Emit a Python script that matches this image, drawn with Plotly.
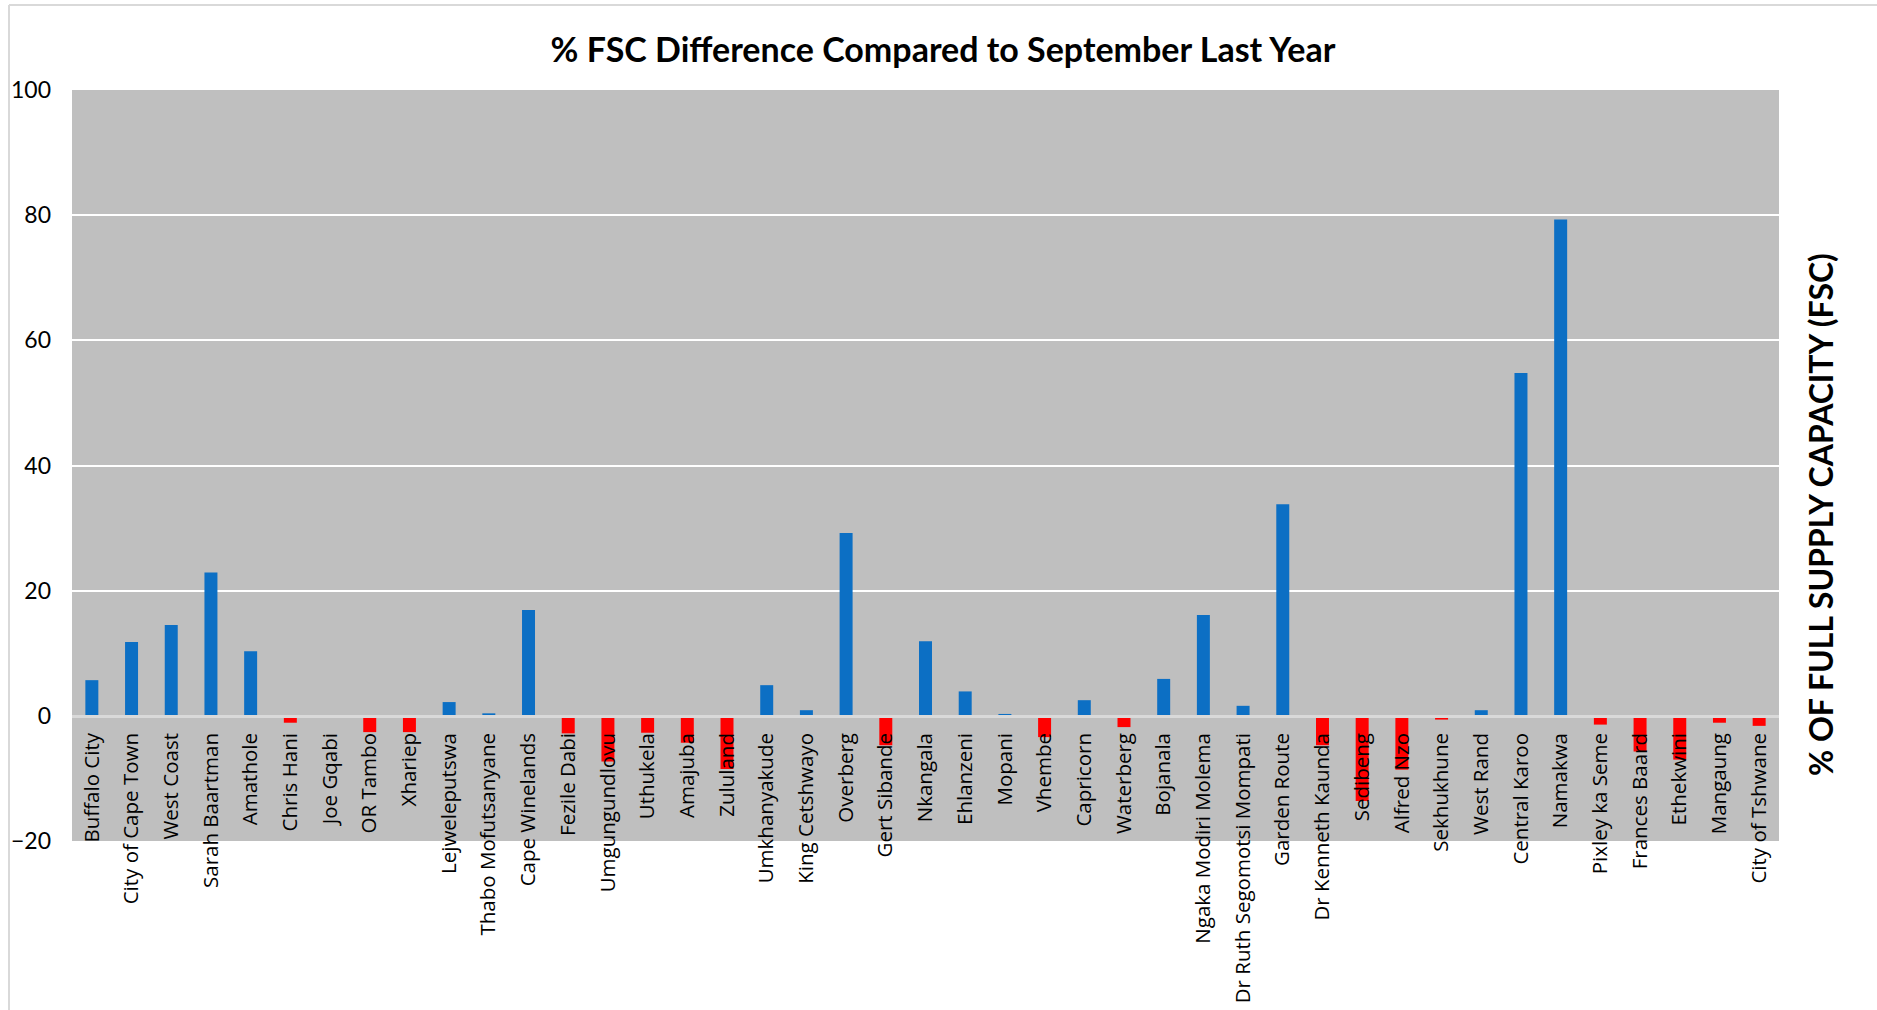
import plotly.graph_objects as go

categories = [
    "Buffalo City", "City of Cape Town", "West Coast", "Sarah Baartman", "Amathole",
    "Chris Hani", "Joe Gqabi", "OR Tambo", "Xhariep", "Lejweleputswa",
    "Thabo Mofutsanyane", "Cape Winelands", "Fezile Dabi", "Umgungundlovu", "Uthukela",
    "Amajuba", "Zululand", "Umkhanyakude", "King Cetshwayo", "Overberg",
    "Gert Sibande", "Nkangala", "Ehlanzeni", "Mopani", "Vhembe",
    "Capricorn", "Waterberg", "Bojanala", "Ngaka Modiri Molema", "Dr Ruth Segomotsi Mompati",
    "Garden Route", "Dr Kenneth Kaunda", "Sedibeng", "Alfred Nzo", "Sekhukhune",
    "West Rand", "Central Karoo", "Namakwa", "Pixley ka Seme", "Frances Baard",
    "Ethekwini", "Mangaung", "City of Tshwane",
]

fsc_difference = [
    5.7, 11.8, 14.5, 22.9, 10.3,
    -1.1, 0.0, -2.6, -2.6, 2.2,
    0.4, 16.9, -2.8, -7.3, -2.7,
    -4.3, -8.5, 4.9, 0.9, 29.2,
    -4.7, 11.9, 3.9, 0.3, -3.4,
    2.5, -1.8, 5.9, 16.1, 1.6,
    33.8, -4.7, -13.6, -8.6, -0.6,
    0.9, 54.8, 79.3, -1.4, -5.7,
    -7.0, -1.1, -1.6,
]

y_ticks = [-20, 0, 20, 40, 60, 80, 100]

title_text = "% FSC Difference Compared to September Last Year"
axis_title_text = "% OF FULL SUPPLY CAPACITY (FSC)"

POS_COLOR = "#0C6FC4"
NEG_COLOR = "#FF0000"
bar_colors = [POS_COLOR if v >= 0 else NEG_COLOR for v in fsc_difference]

ymin, ymax = y_ticks[0], y_ticks[-1]

HEAD = "Lato, Carlito, Calibri, sans-serif"

fig = go.Figure(
    go.Bar(
        x=categories,
        y=fsc_difference,
        marker=dict(color=bar_colors, line=dict(width=0)),
        hoverinfo="x+y",
    )
)

fig.update_layout(
    width=1877,
    height=1010,
    margin=dict(l=72, r=1877 - 1779, t=90, b=1010 - 841, autoexpand=False),
    plot_bgcolor="#BFBFBF",
    paper_bgcolor="white",
    bargap=0.673,
    showlegend=False,
    title=dict(
        text=title_text,
        x=943 / 1877,
        xanchor="center",
        y=1 - 50 / 1010,
        yanchor="middle",
        font=dict(family=HEAD, size=34, color="black", weight="bold"),
    ),
    xaxis=dict(
        type="category",
        anchor="free",
        position=(0 - ymin) / (ymax - ymin),
        showline=True,
        linecolor="#D9D9D9",
        linewidth=3,
        showgrid=False,
        zeroline=False,
        ticks="",
        tickangle=-90,
        tickfont=dict(family="Open Sans, sans-serif", size=20.5, color="black"),
        ticklabelstandoff=7,
        automargin=False,
    ),
    yaxis=dict(
        range=[ymin, ymax],
        tickvals=y_ticks,
        showgrid=True,
        gridcolor="white",
        gridwidth=2,
        zeroline=False,
        showline=False,
        ticks="",
        tickfont=dict(family=HEAD, size=23, color="black"),
        ticklabelstandoff=20,
        automargin=False,
    ),
    annotations=[
        dict(
            text=axis_title_text,
            xref="paper",
            yref="paper",
            x=1,
            xshift=41,
            y=0.434,
            xanchor="center",
            yanchor="middle",
            textangle=-90,
            showarrow=False,
            font=dict(family=HEAD, size=32, color="black", weight="bold"),
        )
    ],
    shapes=[
        dict(type="line", xref="paper", yref="paper",
             x0=(9 - 72) / 1707, x1=(9 - 72) / 1707,
             y0=(841 - 5) / 751, y1=(841 - 1030) / 751,
             line=dict(color="#D9D9D9", width=2)),
        dict(type="line", xref="paper", yref="paper",
             x0=(9 - 72) / 1707, x1=(1890 - 72) / 1707,
             y0=(841 - 5) / 751, y1=(841 - 5) / 751,
             line=dict(color="#D9D9D9", width=2)),
    ],
)

fig.write_html(
    "out.html",
    config={"displayModeBar": False},
    post_script="document.body.style.margin='0';",
)
